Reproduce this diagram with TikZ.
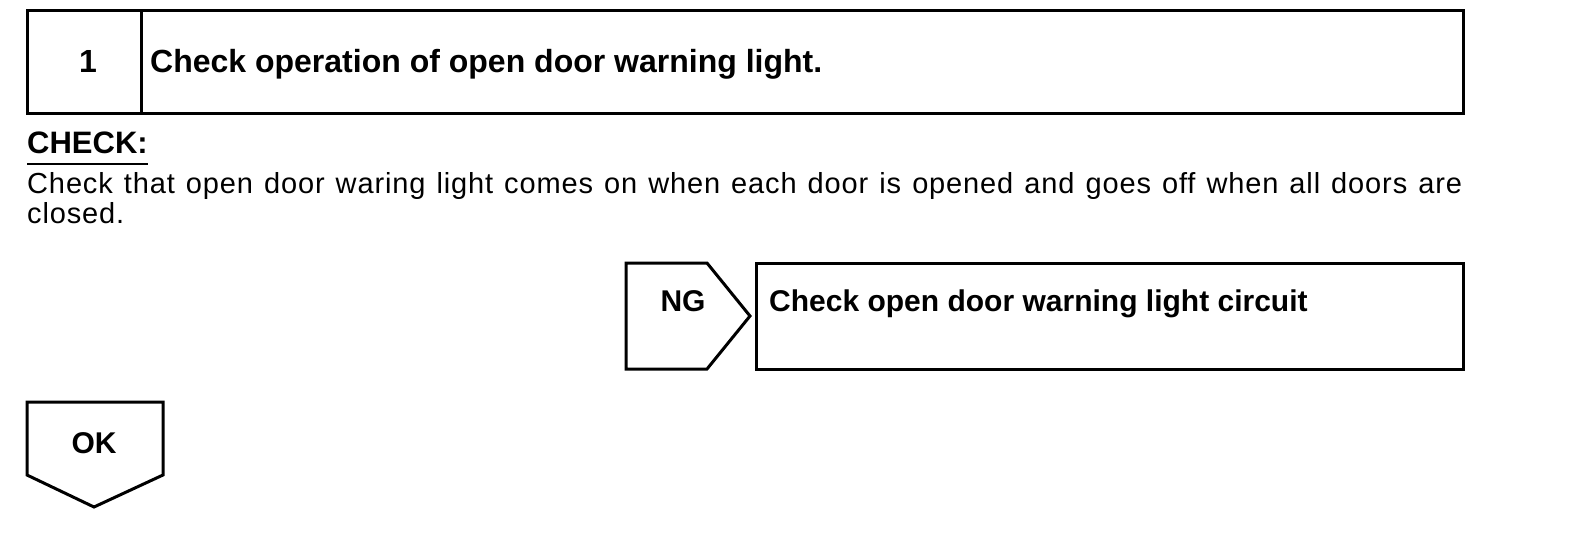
\documentclass[tikz,border=0pt]{standalone}
\usepackage{fontspec}
\setmainfont{Liberation Sans}
\newfontfamily\bodyfont[LetterSpace=3]{Liberation Sans}
\usetikzlibrary{positioning}
\begin{document}
\begin{tikzpicture}[
    x=1pt, y=-1pt,
    every node/.style={inner sep=0pt},
    cell/.style={draw, line width=3pt, outer sep=0pt, minimum height=106pt},
    tag/.style={draw, line width=3pt, line join=miter},
    lbl/.style={font=\fontsize{30}{36}\selectfont\bfseries},
    head/.style={font=\fontsize{32}{40}\selectfont\bfseries},
    body/.style={font=\bodyfont\fontsize{29}{30}\selectfont}
]
    \useasboundingbox (0,0) rectangle (1584,554);

    % Step header
    \node[cell, minimum width=114pt, minimum height=103pt, anchor=north west] (num) at (27,10) {};
    \node[cell, minimum width=1322pt, minimum height=103pt, right=0pt of num] (title) {};
    \node[head, anchor=base] (numtxt) at (88,72) {1};
    \node[head, anchor=base west] (titletxt) at (150,72) {Check operation of open door warning light.};

    % Check text
    \node[lbl, font=\fontsize{31}{36}\selectfont\bfseries, anchor=base west] (chk) at (27,153) {CHECK:};
    \draw[line width=2pt] ([yshift=-11pt]chk.base west) -- ([yshift=-11pt]chk.base east);
    \node[body, anchor=north west, text width=1435pt, align=justify] (desc) at (27,172)
        {Check that open door waring light comes on when each door is opened and goes off when all doors are\linebreak closed.};

    % NG branch
    \draw[tag] (626,263) -- (707,263) -- (750,316) -- (707,369) -- (626,369) -- cycle;
    \node[cell, minimum width=707pt, anchor=north west] (act) at (756,263) {};
    \node[lbl, anchor=base] (ng) at (683,311) {NG};
    \node[lbl, anchor=base west] (acttxt) at (769,311) {Check open door warning light circuit};

    % OK branch
    \draw[tag] (27,402) -- (163,402) -- (163,475) -- (94,507) -- (27,475) -- cycle;
    \node[lbl, anchor=base] (ok) at (94,453) {OK};
\end{tikzpicture}
\end{document}
